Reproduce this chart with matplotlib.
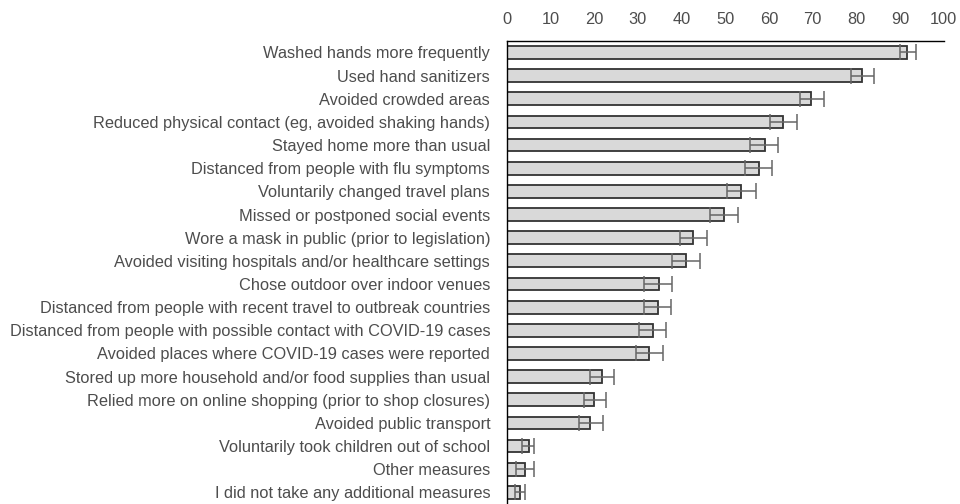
import numpy as np
import matplotlib.pyplot as plt

# measures, share of respondents (%) with 95% CI bounds
measures = [
    'Washed hands more frequently',
    'Used hand sanitizers',
    'Avoided crowded areas',
    'Reduced physical contact (eg, avoided shaking hands)',
    'Stayed home more than usual',
    'Distanced from people with flu symptoms',
    'Voluntarily changed travel plans',
    'Missed or postponed social events',
    'Wore a mask in public (prior to legislation)',
    'Avoided visiting hospitals and/or healthcare settings',
    'Chose outdoor over indoor venues',
    'Distanced from people with recent travel to outbreak countries',
    'Distanced from people with possible contact with COVID-19 cases',
    'Avoided places where COVID-19 cases were reported',
    'Stored up more household and/or food supplies than usual',
    'Relied more on online shopping (prior to shop closures)',
    'Avoided public transport',
    'Voluntarily took children out of school',
    'Other measures',
    'I did not take any additional measures',
]
pct = [91.7, 81.3, 69.7, 63.2, 59.2, 57.7, 53.6, 49.8, 42.7, 40.9,
       34.9, 34.6, 33.4, 32.6, 21.7, 20.0, 19.1, 5.0, 4.2, 3.0]
ci_low = [89.9, 78.7, 67.0, 60.3, 55.7, 54.6, 50.5, 46.4, 39.7, 37.9,
          31.5, 31.5, 30.3, 29.6, 19.0, 17.7, 16.6, 3.4, 2.2, 1.8]
ci_high = [93.6, 84.0, 72.7, 66.4, 62.1, 60.8, 57.1, 52.9, 45.8, 44.3,
           37.9, 37.5, 36.4, 35.7, 24.5, 22.6, 21.9, 6.1, 6.1, 4.2]

plt.rcParams['font.family'] = ['Liberation Sans', 'DejaVu Sans']
txt = '#4d4d4d'

pct = np.array(pct)
err = [pct - np.array(ci_low), np.array(ci_high) - pct]
y = np.arange(len(measures))

fig = plt.figure(figsize=(9.6, 5.04), dpi=100)
ax = fig.add_axes([0.528, 0.0, 0.455, 0.919])

ax.barh(y, pct, height=0.55, color='#d9d9d9', edgecolor='#333333', linewidth=1.3)
ax.errorbar(pct, y, xerr=err, fmt='none', ecolor='#666666', elinewidth=1.1,
            capsize=6, capthick=1.1)

ax.set_xlim(0, 100)
ax.set_ylim(len(measures) - 0.5, -0.5)
ax.set_xticks(np.arange(0, 101, 10))
ax.xaxis.tick_top()
ax.set_yticks(y)
ax.set_yticklabels(measures)
ax.tick_params(axis='x', length=0, pad=10, labelsize=11.8, labelcolor=txt)
ax.tick_params(axis='y', length=0, pad=12, labelsize=11.8, labelcolor=txt)

for s in ['right', 'bottom']:
    ax.spines[s].set_visible(False)
ax.spines['top'].set_linewidth(1.0)
ax.spines['left'].set_linewidth(1.0)

fig.savefig('out.png', dpi=100)
